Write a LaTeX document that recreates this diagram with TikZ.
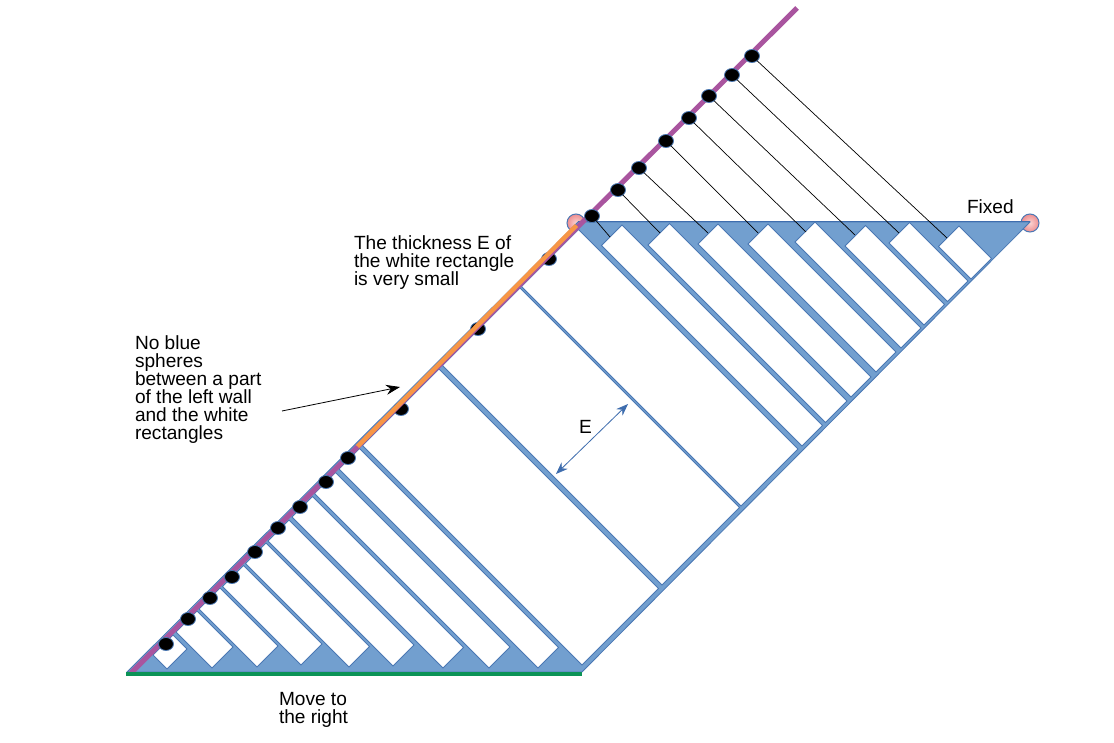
\documentclass[tikz,border=0pt]{standalone}
\usepackage{fontspec}
\setmainfont{Liberation Sans}
\usetikzlibrary{arrows.meta,shapes.geometric}
\definecolor{bluefill}{HTML}{729FCF}
\definecolor{blueline}{HTML}{4A78B4}
\definecolor{bluedark}{HTML}{3E6DAE}
\definecolor{purpleline}{HTML}{A9559F}
\definecolor{orangeline}{HTML}{F79646}
\definecolor{greenline}{HTML}{0B9356}
\definecolor{pinkout}{HTML}{EE8E90}
\definecolor{pinkin}{HTML}{FAD4D2}
\tikzset{
  x=1pt,y=-1pt,
  frame/.style={fill=bluefill,draw=blueline,line width=0.8pt,line join=miter},
  whiterect/.style={fill=white,draw=blueline,line width=0.8pt},
  sphere/.style={ellipse,fill=black,draw=blueline,line width=0.8pt,minimum width=15pt,minimum height=13pt,inner sep=0pt,outer sep=0pt},
  pivot/.style={circle,inner color=pinkin,outer color=pinkout,draw=blueline,line width=1pt,minimum size=18pt,inner sep=0pt},
  tie/.style={draw=black,line width=0.7pt},
  lbl/.style={anchor=north west,align=left,inner sep=0pt,outer sep=0pt,font=\fontsize{19.1}{18}\selectfont,text=black},
}
\newcommand{\wrect}[4]{\path[whiterect] ({(#3+#1)/2},{(#3-#1)/2}) -- ({(#3+#2)/2},{(#3-#2)/2}) -- ({(#4+#2)/2},{(#4-#2)/2}) -- ({(#4+#1)/2},{(#4-#1)/2}) -- cycle;}
\begin{document}
\begin{tikzpicture}
\useasboundingbox (0,0) rectangle (1114,743);
\fill[white] (0,0) rectangle (1114,743);
% pivots under the frame
\node[pivot] (pa) at (576,223) {};
\node[pivot] (pb) at (1030,223) {};
% frame
\path[frame] (127,672) -- (582,672) -- (1030,222) -- (578,222) -- cycle;
\draw[bluedark,line width=1pt] (578,222) -- (1030,222);
% white rectangles: edges given as x-y (u1,u2) and x+y (v1,v2)
\foreach \ua/\ub/\va/\vb in {
  -502/-462/808/836, -456/-414/808/880, -410/-368/808/924, -364/-322/809/966,
  -318/-277/809/1016, -273/-231/809/1059, -225/-184/809/1111, -179/-137/808/1157,
  -130/-89/808/1206, -83/70/808/1247, 77/232/808/1247, 235/349/808/1247,
  356/397/847/1248, 403/446/893/1248, 454/494/942/1248, 504/544/992/1248,
  553/593/1037/1249, 599/640/1091/1249, 646/687/1132/1249, 692/733/1185/1250}
  {\wrect{\ua}{\ub}{\va}{\vb}}
% spheres hidden partly behind the wall lines
\node[sphere] (s10) at (401,409) {};
\node[sphere] (s11) at (478,329) {};
\node[sphere] (s12) at (549,259) {};
% wall
\draw[purpleline,line width=5pt] (131,673) -- (797,8);
\draw[orangeline,line width=4.5pt] (357.5,446.5) -- (576.5,225.5);
\draw[greenline,line width=3.5pt] (126,674) -- (582,674);
% spheres
\foreach \n/\px/\py in {s1/166/644,s2/188/619,s3/210/598,s4/232/577,s5/255/552,s6/278/528,s7/300/507,s8/326/482,s9/348/458,
  t1/592/216,t2/618/190,t3/639/168,t4/666/141,t5/689/118,t6/709/96,t7/732/75,t8/752/56}
  \node[sphere] (\n) at (\px,\py) {};
% ties
\foreach \n/\px/\py in {t1/610/237,t2/660/233,t3/708/233,t4/758/233,t5/806/232,t6/855/235,t7/899/233,t8/947/238}{
  \coordinate (e\n) at (\px,\py);
  \draw[tie] (\n) -- (e\n);
}
% dimension arrow and pointer
\coordinate (ea) at (556,474);
\coordinate (eb) at (628,404);
\draw[bluedark,line width=0.8pt,{Stealth[length=12pt,width=9pt]}-{Stealth[length=12pt,width=9pt]}] (ea) -- (eb);
\coordinate (pa1) at (282,411);
\coordinate (pa2) at (400,387);
\draw[black,line width=0.8pt,-{Stealth[length=14pt,width=10pt]}] (pa1) -- (pa2);
% labels
\node[lbl] (fixed) at (967,200) {Fixed};
\node[lbl] (thick) at (354,235.5) {The thickness E of\\the white rectangle\\is very small};
\node[lbl] (noblue) at (135,335.5) {No blue\\spheres\\between a part\\of the left wall\\and the white\\rectangles};
\node[lbl] (elabel) at (579,420) {E};
\node[lbl] (move) at (279,692) {Move to\\the right};
\end{tikzpicture}
\end{document}
